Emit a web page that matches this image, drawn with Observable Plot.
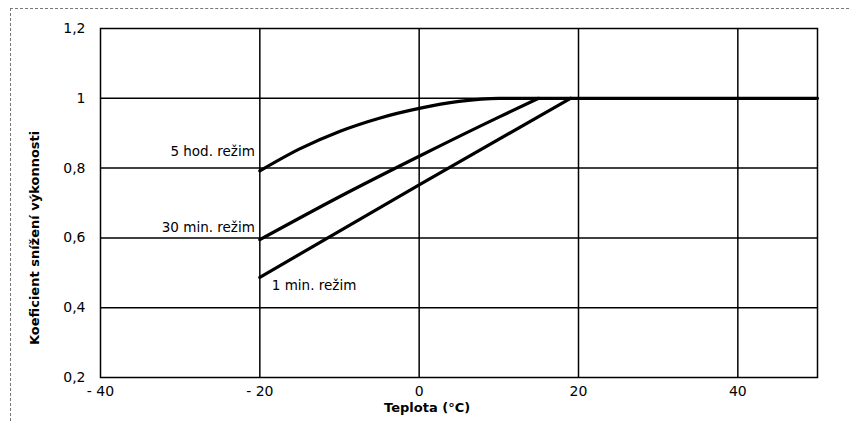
<!DOCTYPE html>
<html>
<head>
<meta charset="utf-8">
<script src="https://cdn.jsdelivr.net/npm/d3@7"></script>
<script src="https://cdn.jsdelivr.net/npm/@observablehq/plot@0.6"></script>
<style>
  html, body { margin: 0; padding: 0; background: #fff; }
  #wrap { position: relative; width: 849px; height: 421px; }
  #border { position: absolute; left: 10px; top: 8px; right: 0; bottom: 0;
            border-top: 1px dashed #777; border-left: 1px dashed #777; pointer-events: none; }
</style>
</head>
<body>
<div id="wrap"><div id="border"></div></div>
<script>
// Temperature (°C) and capacity reduction coefficient for each mode
const temp5h   = [-20, -15, -10, -5, 0, 5, 10, 50];
const coef5h   = [0.792, 0.855, 0.905, 0.943, 0.971, 0.991, 1.0, 1.0];
const temp30m  = [-20, -10, 0, 10, 15];
const coef30m  = [0.595, 0.718, 0.834, 0.946, 1.0];
const temp1m   = [-20, 0, 19];
const coef1m   = [0.487, 0.752, 1.0];
const seriesNames = ["5 hod. režim", "30 min. režim", "1 min. režim"];
const xTicks = [-40, -20, 0, 20, 40];
const yTicks = [0.2, 0.4, 0.6, 0.8, 1.0, 1.2];
const xTitle = "Teplota (°C)";
const yTitle = "Koeficient snížení výkonnosti";

const toRows = (xs, ys, name) => xs.map((x, i) => ({x, y: ys[i], name}));
const s5h  = toRows(temp5h, coef5h, seriesNames[0]);
const s30m = toRows(temp30m, coef30m, seriesNames[1]);
const s1m  = toRows(temp1m, coef1m, seriesNames[2]);

const FONT = "'DejaVu Sans', sans-serif";

const chart = Plot.plot({
  width: 849,
  height: 421,
  marginLeft: 100,
  marginRight: 32,
  marginTop: 28,
  marginBottom: 44,
  style: {fontFamily: FONT, fontSize: "14px", color: "#000", background: "transparent"},
  x: {domain: [-40, 50], ticks: xTicks, tickSize: 0, tickPadding: 9,
      tickFormat: d => d < 0 ? "- " + Math.abs(d) : String(d), label: null},
  y: {domain: [0.2, 1.2], ticks: yTicks, tickSize: 0, tickPadding: 15,
      tickFormat: d => String(+d.toFixed(1)).replace(".", ","), label: null},
  marks: [
    Plot.gridX(xTicks.slice(1), {stroke: "#000", strokeOpacity: 1, strokeWidth: 1.5}),
    Plot.gridY(yTicks.slice(1, -1), {stroke: "#000", strokeOpacity: 1, strokeWidth: 1.5}),
    Plot.frame({stroke: "#000", strokeWidth: 1.5}),
    Plot.line(s5h, {x: "x", y: "y", curve: "monotone-x", stroke: "#000", strokeWidth: 3.2}),
    Plot.line(s30m, {x: "x", y: "y", curve: "monotone-x", stroke: "#000", strokeWidth: 3.2}),
    Plot.line(s1m, {x: "x", y: "y", curve: "linear", stroke: "#000", strokeWidth: 3.2}),
    Plot.text([s5h[0]], {x: "x", y: "y", text: "name", textAnchor: "end", dx: -5, dy: -19, fontSize: 13.5, fill: "#000"}),
    Plot.text([s30m[0]], {x: "x", y: "y", text: "name", textAnchor: "end", dx: -5, dy: -12, fontSize: 13.5, fill: "#000"}),
    Plot.text([s1m[0]], {x: "x", y: "y", text: "name", textAnchor: "start", dx: 12, dy: 8, fontSize: 13.5, fill: "#000"}),
    // axis titles
    Plot.text([xTitle], {x: () => 1, frameAnchor: "bottom", text: d => d, dy: 30, lineAnchor: "middle",
                         fontWeight: "bold", fontSize: 13, fill: "#000"}),
    Plot.text([yTitle], {y: () => 0.6, frameAnchor: "left", text: d => d, dx: -66, rotate: -90,
                         lineAnchor: "middle", textAnchor: "middle", fontWeight: "bold", fontSize: 13, fill: "#000"})
  ]
});

document.getElementById("wrap").prepend(chart);
</script>
</body>
</html>
